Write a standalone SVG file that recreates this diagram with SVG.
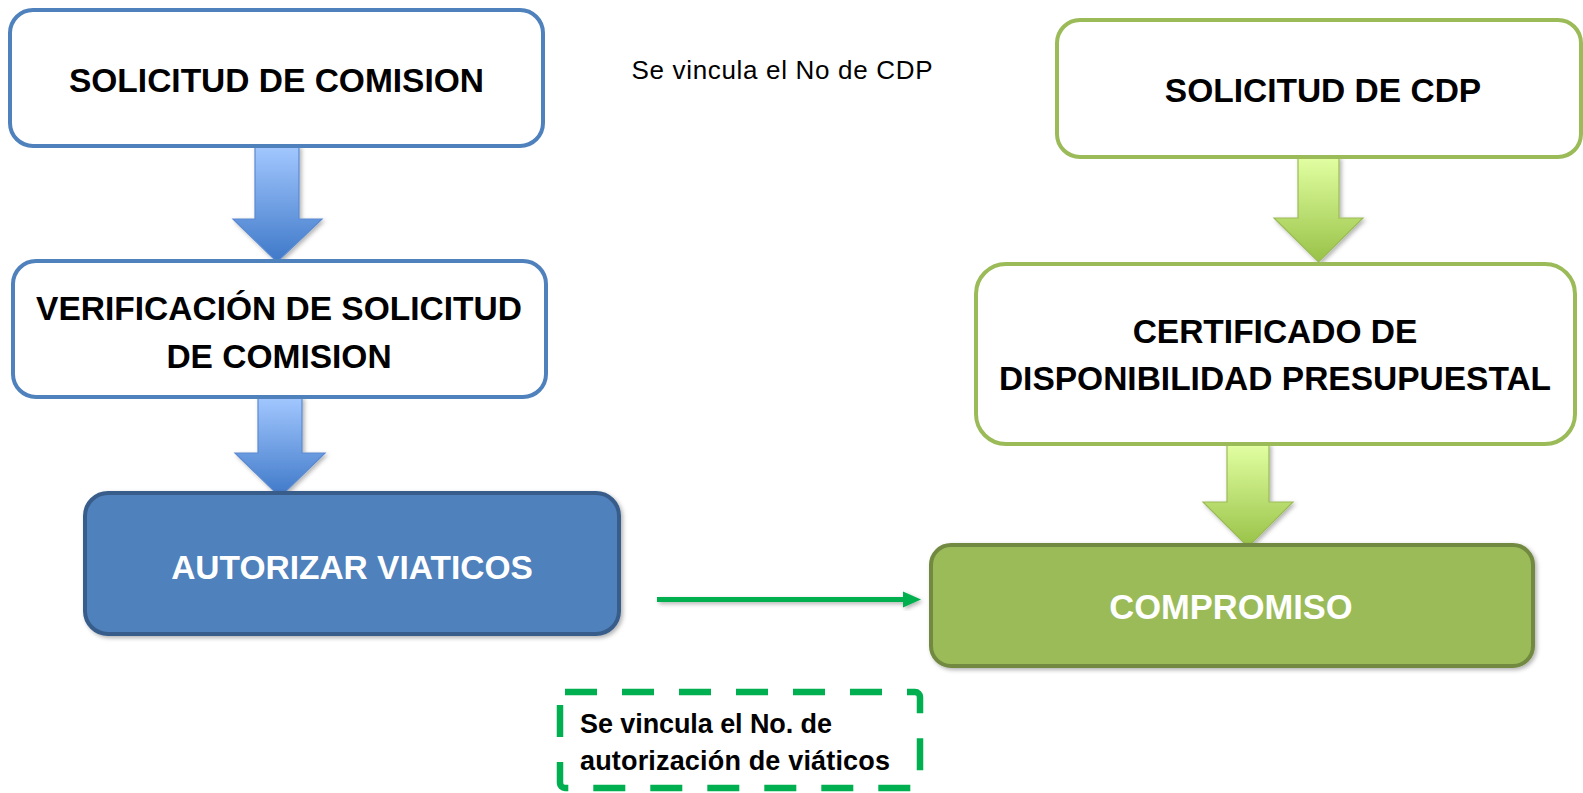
<svg xmlns="http://www.w3.org/2000/svg" width="1583" height="793" viewBox="0 0 1583 793">
<style>
.ob{fill:#ffffff;stroke:#4F81BD;stroke-width:4}
.og{fill:#ffffff;stroke:#9BBB59;stroke-width:4}
.fb{fill:#4F81BD;stroke:#385D8A;stroke-width:4}
.fg{fill:#9BBB59;stroke:#71893F;stroke-width:4}
.t{font-family:"Liberation Sans",Arial,sans-serif;font-weight:bold;font-size:33.5px;text-anchor:middle;fill:#000000}
.tw{fill:#ffffff}
.ab{fill:url(#gb);stroke:#5A8AD0;stroke-width:1.2}
.ag{fill:url(#gg);stroke:#9BBB59;stroke-width:1.2}
.note{font-family:"Liberation Sans",Arial,sans-serif;font-size:26px;fill:#000000}
.nb{font-family:"Liberation Sans",Arial,sans-serif;font-weight:bold;font-size:27px;fill:#000000}
</style>
<defs>
<linearGradient id="gb" x1="0" y1="0" x2="0" y2="1">
<stop offset="0" stop-color="#A3C8FF"/>
<stop offset="1" stop-color="#3E78C8"/>
</linearGradient>
<linearGradient id="gg" x1="0" y1="0" x2="0" y2="1">
<stop offset="0" stop-color="#E2FFA2"/>
<stop offset="1" stop-color="#98C247"/>
</linearGradient>
<filter id="sh" x="-20%" y="-20%" width="140%" height="140%">
<feDropShadow dx="2" dy="2" stdDeviation="2" flood-color="#000000" flood-opacity="0.3"/>
</filter>
</defs>

<g id="connectors">
<polygon class="ab" filter="url(#sh)" points="255,146 299,146 299,219 322,219 277,262 233,219 255,219"/>
<polygon class="ab" filter="url(#sh)" points="258,397 302,397 302,453 325,453 280,497 235,453 258,453"/>
<polygon class="ag" filter="url(#sh)" points="1298,157 1339,157 1339,218 1363,218 1318.5,262 1274,218 1298,218"/>
<polygon class="ag" filter="url(#sh)" points="1227,444 1269,444 1269,502 1293,502 1248,547 1203,502 1227,502"/>
<g filter="url(#sh)">
<line x1="657" y1="599.5" x2="906" y2="599.5" stroke="#00B050" stroke-width="5"/>
<polygon points="903,591.5 921,599.5 903,607.5" fill="#00B050"/>
</g>
</g>

<g id="solicitud-comision">
<rect class="ob" x="10" y="10" width="533" height="136" rx="23"/>
<text class="t" x="276.5" y="92">SOLICITUD DE COMISION</text>
</g>

<g id="verificacion">
<rect class="ob" x="13" y="261" width="533" height="136" rx="23"/>
<text class="t" x="279" y="320">VERIFICACIÓN DE SOLICITUD</text>
<text class="t" x="279" y="368">DE COMISION</text>
</g>

<g id="autorizar-viaticos">
<rect class="fb" filter="url(#sh)" x="85" y="493" width="534" height="141" rx="23"/>
<text class="t tw" x="352" y="579">AUTORIZAR VIATICOS</text>
</g>

<g id="nota-cdp">
<text class="note" x="631.5" y="78.5" textLength="301">Se vincula el No de CDP</text>
</g>

<g id="solicitud-cdp">
<rect class="og" x="1057" y="20" width="524" height="137" rx="23"/>
<text class="t" x="1323" y="102">SOLICITUD DE CDP</text>
</g>

<g id="certificado">
<rect class="og" x="976" y="264" width="599" height="180" rx="30"/>
<text class="t" x="1275" y="343">CERTIFICADO DE</text>
<text class="t" x="1275" y="390">DISPONIBILIDAD PRESUPUESTAL</text>
</g>

<g id="compromiso">
<rect class="fg" filter="url(#sh)" x="931" y="545" width="602" height="121" rx="20"/>
<text class="t tw" x="1231" y="619" style="font-size:34.5px">COMPROMISO</text>
</g>

<g id="nota-autorizacion">
<rect x="560" y="692" width="360" height="96" rx="5" fill="none" stroke="#00B050" stroke-width="6.5" stroke-dasharray="32,25"/>
<text class="nb" x="580" y="733" textLength="252">Se vincula el No. de</text>
<text class="nb" x="580" y="770" textLength="310">autorización de viáticos</text>
</g>
</svg>
